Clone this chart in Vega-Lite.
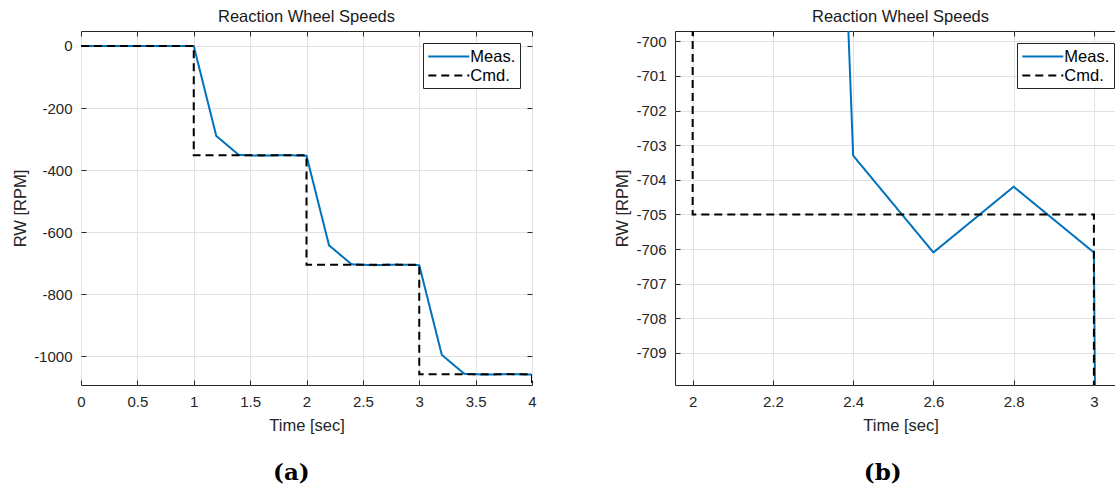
{
  "$schema": "https://vega.github.io/schema/vega-lite/v6.json",
  "padding": {"left": 12, "top": 8, "right": 0, "bottom": 0},
  "datasets": {
    "d": [
      {"t": 0, "v": 0, "s": "Meas.", "o": 0},
      {"t": 0.2, "v": 0, "s": "Meas.", "o": 1},
      {"t": 0.4, "v": 0, "s": "Meas.", "o": 2},
      {"t": 0.6, "v": 0, "s": "Meas.", "o": 3},
      {"t": 0.8, "v": 0, "s": "Meas.", "o": 4},
      {"t": 1.0, "v": 0, "s": "Meas.", "o": 5},
      {"t": 1.2, "v": -290, "s": "Meas.", "o": 6},
      {"t": 1.4, "v": -351.3, "s": "Meas.", "o": 7},
      {"t": 1.6, "v": -353.6, "s": "Meas.", "o": 8},
      {"t": 1.8, "v": -351.7, "s": "Meas.", "o": 9},
      {"t": 2.0, "v": -353.6, "s": "Meas.", "o": 10},
      {"t": 2.2, "v": -642.5, "s": "Meas.", "o": 11},
      {"t": 2.4, "v": -703.3, "s": "Meas.", "o": 12},
      {"t": 2.6, "v": -706.1, "s": "Meas.", "o": 13},
      {"t": 2.8, "v": -704.2, "s": "Meas.", "o": 14},
      {"t": 3.0, "v": -706.1, "s": "Meas.", "o": 15},
      {"t": 3.2, "v": -995, "s": "Meas.", "o": 16},
      {"t": 3.4, "v": -1056, "s": "Meas.", "o": 17},
      {"t": 3.6, "v": -1058.6, "s": "Meas.", "o": 18},
      {"t": 3.8, "v": -1056.7, "s": "Meas.", "o": 19},
      {"t": 4.0, "v": -1058.6, "s": "Meas.", "o": 20},
      {"t": 0, "v": 0, "s": "Cmd.", "o": 0},
      {"t": 1, "v": 0, "s": "Cmd.", "o": 1},
      {"t": 1, "v": -352.5, "s": "Cmd.", "o": 2},
      {"t": 2, "v": -352.5, "s": "Cmd.", "o": 3},
      {"t": 2, "v": -705, "s": "Cmd.", "o": 4},
      {"t": 3, "v": -705, "s": "Cmd.", "o": 5},
      {"t": 3, "v": -1057.5, "s": "Cmd.", "o": 6},
      {"t": 4, "v": -1057.5, "s": "Cmd.", "o": 7},
      {"t": 4, "v": -1410, "s": "Cmd.", "o": 8}
    ]
  },
  "config": {
    "locale": {"number": {"decimal": ".", "thousands": ",", "grouping": [3], "currency": ["$", ""], "minus": "-"}},
    "view": {"stroke": "#262626", "strokeWidth": 1},
    "font": "Liberation Sans",
    "axis": {
      "labelFont": "Liberation Sans", "labelFontSize": 15, "labelColor": "#262626", "labelFlush": false,
      "titleFont": "Liberation Sans", "titleFontSize": 16.5, "titleFontWeight": "normal", "titleColor": "#262626",
      "tickColor": "#262626", "tickSize": -5, "domain": false,
      "gridColor": "#e2e2e2", "gridWidth": 1
    },
    "title": {"font": "Liberation Sans", "fontSize": 16.5, "fontWeight": "normal", "color": "#1a1a1a"},
    "legend": {
      "orient": "top-right", "offset": 12, "title": null,
      "symbolType": "M-2.5,0H2.5", "symbolSize": 269, "symbolStrokeWidth": 2, "symbolOffset": 12.3,
      "labelFont": "Liberation Sans", "labelFontSize": 16.5, "labelColor": "#000000",
      "strokeColor": "#262626", "fillColor": "white", "padding": 4, "rowPadding": 1,
      "labelOffset": 12, "cornerRadius": 0
    }
  },
  "spacing": 77,
  "resolve": {"scale": {"color": "independent", "strokeDash": "independent"}},
  "hconcat": [
    {
      "resolve": {"scale": {"color": "independent", "strokeDash": "independent"}},
      "title": {"text": "(a)", "orient": "bottom", "anchor": "middle", "font": "DejaVu Serif", "fontSize": 23, "fontWeight": "bold", "color": "#000000", "offset": 28, "dx": 17},
      "vconcat": [
        {
          "title": {"text": "Reaction Wheel Speeds", "offset": 5},
          "width": 451, "height": 354,
          "data": {"name": "d"},
          "resolve": {"axis": {"x": "independent", "y": "independent"}},
          "layer": [
            {
              "transform": [{"filter": "datum.s === 'Meas.'"}],
              "mark": {"type": "line", "clip": true, "strokeWidth": 2},
              "encoding": {
                "x": {"field": "t", "type": "quantitative", "scale": {"domain": [0, 4], "nice": false, "zero": false},
                  "axis": {"title": "Time [sec]", "values": [0, 0.5, 1, 1.5, 2, 2.5, 3, 3.5, 4], "format": "~f", "labelPadding": 14, "titlePadding": 8}},
                "y": {"field": "v", "type": "quantitative", "scale": {"domain": [-1092, 48], "nice": false, "zero": false},
                  "axis": {"title": "RW [RPM]", "values": [-1000, -800, -600, -400, -200, 0], "format": "~f", "labelPadding": 14, "titlePadding": 5}},
                "color": {"field": "s", "type": "nominal", "scale": {"domain": ["Meas.", "Cmd."], "range": ["#0072BD", "#000000"]}},
                "strokeDash": {"field": "s", "type": "nominal", "scale": {"domain": ["Meas.", "Cmd."], "range": [[1, 0], [8, 5]]}},
                "order": {"field": "o", "type": "quantitative"}
              }
            },
            {
              "transform": [{"filter": "datum.s === 'Cmd.'"}],
              "mark": {"type": "line", "clip": true, "strokeWidth": 2},
              "encoding": {
                "x": {"field": "t", "type": "quantitative",
                  "axis": {"orient": "top", "title": null, "labels": false, "grid": false, "values": [0, 0.5, 1, 1.5, 2, 2.5, 3, 3.5, 4]}},
                "y": {"field": "v", "type": "quantitative",
                  "axis": {"orient": "right", "title": null, "labels": false, "grid": false, "values": [-1000, -800, -600, -400, -200, 0]}},
                "color": {"field": "s", "type": "nominal"},
                "strokeDash": {"field": "s", "type": "nominal"},
                "order": {"field": "o", "type": "quantitative"}
              }
            }
          ]
        }
      ]
    },
    {
      "resolve": {"scale": {"color": "independent", "strokeDash": "independent"}},
      "title": {"text": "(b)", "orient": "bottom", "anchor": "middle", "font": "DejaVu Serif", "fontSize": 23, "fontWeight": "bold", "color": "#000000", "offset": 28, "dx": 12},
      "vconcat": [
        {
          "title": {"text": "Reaction Wheel Speeds", "offset": 5},
          "width": 451, "height": 354,
          "data": {"name": "d"},
          "resolve": {"axis": {"x": "independent", "y": "independent"}},
          "layer": [
            {
              "transform": [{"filter": "datum.s === 'Meas.'"}],
              "mark": {"type": "line", "clip": true, "strokeWidth": 2},
              "encoding": {
                "x": {"field": "t", "type": "quantitative", "scale": {"domain": [1.956, 3.08], "nice": false, "zero": false},
                  "axis": {"title": "Time [sec]", "values": [2, 2.2, 2.4, 2.6, 2.8, 3], "format": "~f", "labelPadding": 14, "titlePadding": 8}},
                "y": {"field": "v", "type": "quantitative", "scale": {"domain": [-709.93, -699.7], "nice": false, "zero": false},
                  "axis": {"title": "RW [RPM]", "values": [-709, -708, -707, -706, -705, -704, -703, -702, -701, -700], "format": "~f", "labelPadding": 14, "titlePadding": 5}},
                "color": {"field": "s", "type": "nominal", "scale": {"domain": ["Meas.", "Cmd."], "range": ["#0072BD", "#000000"]}},
                "strokeDash": {"field": "s", "type": "nominal", "scale": {"domain": ["Meas.", "Cmd."], "range": [[1, 0], [8, 5]]}},
                "order": {"field": "o", "type": "quantitative"}
              }
            },
            {
              "transform": [{"filter": "datum.s === 'Cmd.'"}],
              "mark": {"type": "line", "clip": true, "strokeWidth": 2},
              "encoding": {
                "x": {"field": "t", "type": "quantitative",
                  "axis": {"orient": "top", "title": null, "labels": false, "grid": false, "values": [2, 2.2, 2.4, 2.6, 2.8, 3]}},
                "y": {"field": "v", "type": "quantitative",
                  "axis": {"orient": "right", "title": null, "labels": false, "grid": false, "values": [-709, -708, -707, -706, -705, -704, -703, -702, -701, -700]}},
                "color": {"field": "s", "type": "nominal"},
                "strokeDash": {"field": "s", "type": "nominal"},
                "order": {"field": "o", "type": "quantitative"}
              }
            }
          ]
        }
      ]
    }
  ]
}
